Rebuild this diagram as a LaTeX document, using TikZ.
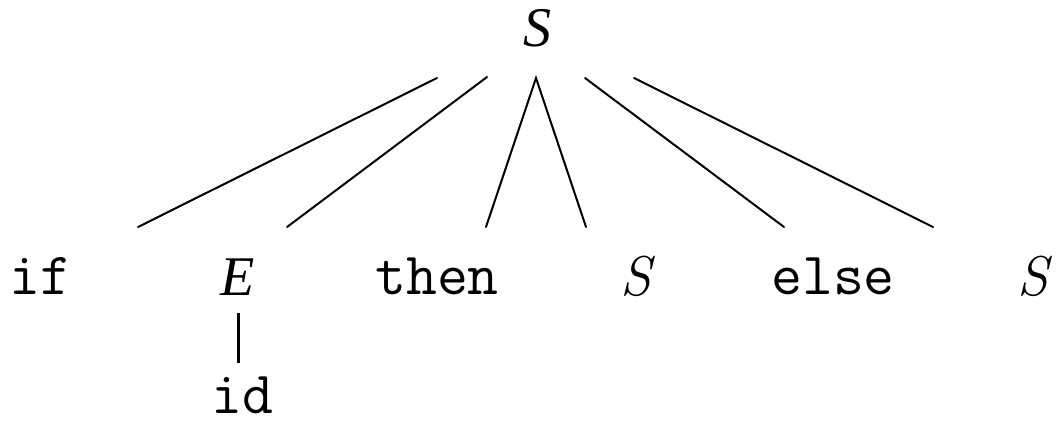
\documentclass[tikz,border=0pt]{standalone}
\usepackage{fontspec}
\setmainfont{Liberation Serif}
\setmonofont{Latin Modern Mono}
\newfontfamily\lmrfam{Latin Modern Roman}
\begin{document}
\begin{tikzpicture}[x=1pt,y=-1pt,
  lbl/.style={anchor=base,inner sep=0pt,font=\fontsize{56}{60}\selectfont},
  lmsym/.style={anchor=base,inner sep=0pt,font=\fontsize{56}{60}\selectfont\lmrfam\itshape},
  tt/.style={anchor=base,inner sep=0pt,font=\fontsize{60}{64}\selectfont\ttfamily},
  edge/.style={line width=2pt,line cap=round}]
\useasboundingbox (0,0) rectangle (1056,425);
\node[lbl] (root) at (537,47) {\itshape S};
\node[tt] (if) at (40,294) {if};
\node[lbl] (E) at (238,295) {\itshape E};
\node[tt] (then) at (437,294) {then};
\node[lmsym] (S1) at (636,295) {S};
\node[tt] (else) at (833,294) {else};
\node[lmsym] (S2) at (1033,295) {S};
\node[tt] (id) at (242,413) {id};
\coordinate (t1) at (437,78); \coordinate (b1) at (138,227);
\coordinate (t2) at (487,77); \coordinate (b2) at (287,227);
\coordinate (t3) at (536,78); \coordinate (b3) at (486,227);
\coordinate (b4) at (586,227);
\coordinate (t5) at (585,78); \coordinate (b5) at (784,227);
\coordinate (t6) at (634,78); \coordinate (b6) at (933,227);
\coordinate (e1) at (238,313); \coordinate (e2) at (238,363);
\draw[edge] (t1) -- (b1);
\draw[edge] (t2) -- (b2);
\draw[edge] (b3) -- (t3) -- (b4);
\draw[edge] (t5) -- (b5);
\draw[edge] (t6) -- (b6);
\draw[line width=3pt] (e1) -- (e2);
\end{tikzpicture}
\end{document}
